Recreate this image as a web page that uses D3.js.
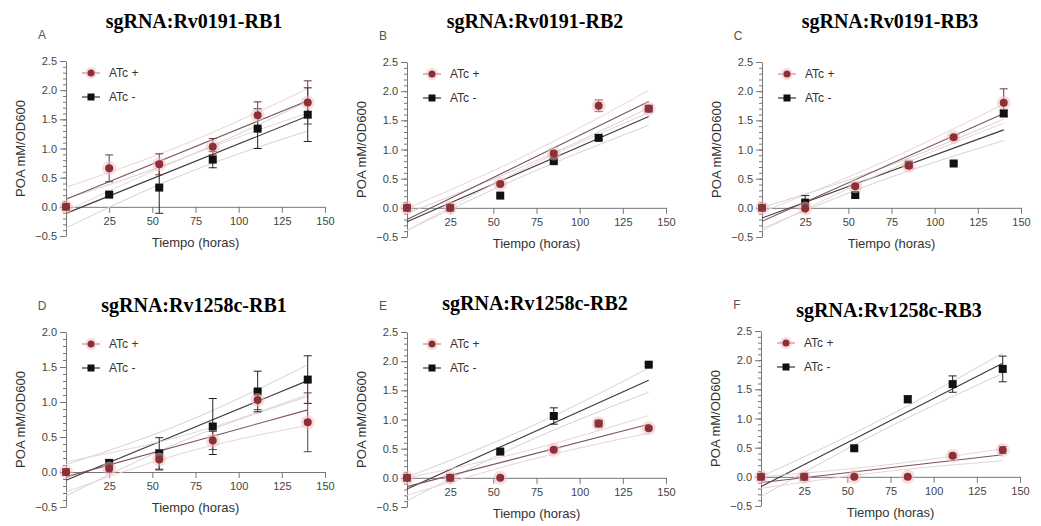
<!DOCTYPE html>
<html>
<head>
<meta charset="utf-8">
<script src="https://cdn.jsdelivr.net/npm/d3@7"></script>
<style>
  body { margin: 0; background: #fff; }
  svg text { font-family: "Liberation Sans", Arial, sans-serif; }
  .title { font-family: "Liberation Serif", "Times New Roman", serif; font-weight: bold; font-size: 20px; fill: #000; }
  .tick text { font-size: 11px; fill: #444; }
  .axis path, .axis line { stroke: #777; }
</style>
</head>
<body>
<svg id="chart" width="1041" height="526"></svg>
<script>
// sampling times (hours)
var hours = [0, 25, 54, 85, 111, 140];
var titles = ['sgRNA:Rv0191-RB1', 'sgRNA:Rv0191-RB2', 'sgRNA:Rv0191-RB3',
              'sgRNA:Rv1258c-RB1', 'sgRNA:Rv1258c-RB2', 'sgRNA:Rv1258c-RB3'];
var letters = ['A', 'B', 'C', 'D', 'E', 'F'];
var seriesNames = ['ATc +', 'ATc -'];
var yMax = [2.5, 2.5, 2.5, 2.0, 2.5, 2.5];
var xTicks = [25, 50, 75, 100, 125, 150];

// POA mM/OD600, mean per time point (3 replicates)
var atcPlus = [
  [0, 0.66, 0.73, 1.03, 1.57, 1.79],
  [0, 0.00, 0.41, 0.93, 1.75, 1.70],
  [0, -0.01, 0.37, 0.72, 1.21, 1.80],
  [0, 0.05, 0.18, 0.45, 1.03, 0.71],
  [0, 0.00, 0.00, 0.48, 0.93, 0.85],
  [0, 0.00, 0.00, 0.00, 0.36, 0.46]
];
var atcPlusErr = [
  [0, 0.23, 0.18, 0.14, 0.23, 0.37],
  [0, 0.00, 0.03, 0.04, 0.10, 0.04],
  [0, 0.02, 0.03, 0.03, 0.03, 0.24],
  [0, 0.05, 0.14, 0.13, 0.14, 0.42],
  [0, 0.00, 0.00, 0.02, 0.03, 0.03],
  [0, 0.00, 0.00, 0.00, 0.03, 0.06]
];
var atcMinus = [
  [0, 0.21, 0.33, 0.81, 1.34, 1.58],
  [0, 0.00, 0.21, 0.80, 1.20, 1.70],
  [0, 0.09, 0.22, 0.74, 0.76, 1.62],
  [0, 0.13, 0.26, 0.65, 1.15, 1.32],
  [0, 0.00, 0.45, 1.06, 0.93, 1.94],
  [0, 0.00, 0.49, 1.33, 1.59, 1.85]
];
var atcMinusErr = [
  [0, 0.03, 0.44, 0.14, 0.34, 0.46],
  [0, 0.00, 0.02, 0.03, 0.03, 0.03],
  [0, 0.12, 0.03, 0.03, 0.03, 0.05],
  [0, 0.04, 0.23, 0.40, 0.29, 0.34],
  [0, 0.00, 0.03, 0.14, 0.03, 0.03],
  [0, 0.00, 0.03, 0.06, 0.14, 0.22]
];
var reps = 3;

// panel layout: x of hour 0, top of plot, title baseline offset
var layout = [
  {x0: 66,  top: 61,  tdy: -33}, {x0: 407, top: 62,  tdy: -34}, {x0: 762, top: 62,  tdy: -34},
  {x0: 66,  top: 332, tdy: -20}, {x0: 407, top: 332, tdy: -22}, {x0: 761, top: 331, tdy: -14}
];
var plotW = 259, plotH = 175;

var svg = d3.select('#chart');

// least squares line on all replicates (means + SD), 95% confidence band
function fit(xs, ys, sds) {
  var n = xs.length, mx = d3.mean(xs), my = d3.mean(ys);
  var sxx = d3.sum(xs, function(x) { return (x - mx) * (x - mx); });
  var sxy = d3.sum(xs, function(x, i) { return (x - mx) * (ys[i] - my); });
  var b = sxy / sxx, a = my - b * mx;
  var sse = d3.sum(xs, function(x, i) { var r = ys[i] - (a + b * x); return r * r; });
  var N = n * reps;
  var ssTot = reps * sse + (reps - 1) * d3.sum(sds, function(d) { return d * d; });
  var s = Math.sqrt(ssTot / (N - 2));
  return {
    y: function(x) { return a + b * x; },
    half: function(x) { return 2.12 * s * Math.sqrt(1 / N + (x - mx) * (x - mx) / (reps * sxx)); }
  };
}

function drawPanel(p) {
  var L = layout[p];
  var g = svg.append('g').attr('transform', 'translate(' + L.x0 + ',' + L.top + ')');
  var x = d3.scaleLinear().domain([0, 150]).range([0, plotW]);
  var y = d3.scaleLinear().domain([-0.5, yMax[p]]).range([plotH, 0]);

  // title and panel letter
  svg.append('text').attr('class', 'title')
    .attr('x', L.x0 + 128).attr('y', L.top + L.tdy)
    .attr('text-anchor', 'middle').text(titles[p]);
  svg.append('text')
    .attr('x', L.x0 - 24).attr('y', L.top - 22)
    .attr('text-anchor', 'middle').style('font-size', '12px').style('fill', '#555')
    .text(letters[p]);

  // y axis with minor ticks
  var yMinor = d3.range(-0.5, yMax[p] + 0.001, 0.1);
  g.append('g').attr('class', 'axis')
    .call(d3.axisLeft(y).tickValues(yMinor).tickSize(3).tickFormat(''))
    .select('.domain').remove();
  g.append('g').attr('class', 'axis')
    .call(d3.axisLeft(y).tickValues(d3.range(-0.5, yMax[p] + 0.001, 0.5))
      .tickSize(6).tickSizeOuter(0).tickFormat(d3.format('.1f')));

  // x axis along y = 0
  g.append('g').attr('class', 'axis')
    .attr('transform', 'translate(0,' + y(0) + ')')
    .call(d3.axisBottom(x).tickValues(xTicks).tickSize(6).tickSizeOuter(0).tickPadding(4));

  // axis titles
  g.append('text')
    .attr('transform', 'translate(-46,' + (plotH / 2) + ')rotate(-90)')
    .attr('text-anchor', 'middle').attr('dy', '0.35em')
    .style('font-size', '13px').style('fill', '#333')
    .text('POA mM/OD600');
  g.append('text')
    .attr('x', x(75)).attr('y', y(0) + 40)
    .attr('text-anchor', 'middle')
    .style('font-size', '13px').style('fill', '#333')
    .text('Tiempo (horas)');

  var series = [
    {v: atcMinus[p], e: atcMinusErr[p], line: '#3a3a3a', band: '#d2d2d2', err: '#222'},
    {v: atcPlus[p], e: atcPlusErr[p], line: '#7d5256', band: '#ebd3d5', err: '#6e3a3f'}
  ];
  var xs = d3.range(0, 141, 2);

  // confidence bands and fitted lines
  series.forEach(function(s) {
    var f = fit(hours, s.v, s.e);
    [-1, 1].forEach(function(sign) {
      g.append('path')
        .attr('d', d3.line().x(function(d) { return x(d); })
          .y(function(d) { return y(f.y(d) + sign * f.half(d)); })(xs))
        .attr('fill', 'none').attr('stroke', s.band).attr('stroke-width', 1);
    });
    g.append('line')
      .attr('x1', x(0)).attr('y1', y(f.y(0)))
      .attr('x2', x(140)).attr('y2', y(f.y(140)))
      .attr('stroke', s.line).attr('stroke-width', 1.1);
  });

  // error bars
  series.forEach(function(s) {
    hours.forEach(function(h, i) {
      if (s.e[i] <= 0.02) return;
      var top = y(s.v[i] + s.e[i]), bot = y(s.v[i] - s.e[i]);
      g.append('line').attr('x1', x(h)).attr('x2', x(h)).attr('y1', top).attr('y2', bot)
        .attr('stroke', s.err).attr('stroke-width', 1);
      [top, bot].forEach(function(yy) {
        g.append('line').attr('x1', x(h) - 4).attr('x2', x(h) + 4).attr('y1', yy).attr('y2', yy)
          .attr('stroke', s.err).attr('stroke-width', 1);
      });
    });
  });

  // markers: ATc- squares, then ATc+ circles
  g.selectAll('rect.minus').data(atcMinus[p]).enter().append('rect')
    .attr('x', function(d, i) { return x(hours[i]) - 4; })
    .attr('y', function(d) { return y(d) - 4; })
    .attr('width', 8).attr('height', 8).attr('fill', '#111');
  g.selectAll('circle.halo').data(atcPlus[p]).enter().append('circle')
    .attr('cx', function(d, i) { return x(hours[i]); })
    .attr('cy', function(d) { return y(d); })
    .attr('r', 7).attr('fill', '#f0bcc0').attr('opacity', 0.5);
  g.selectAll('circle.plus').data(atcPlus[p]).enter().append('circle')
    .attr('cx', function(d, i) { return x(hours[i]); })
    .attr('cy', function(d) { return y(d); })
    .attr('r', 4).attr('fill', '#8c2f36');

  // legend
  var leg = g.append('g').attr('transform', 'translate(25,12)');
  seriesNames.forEach(function(name, i) {
    var ly = i * 24;
    leg.append('line').attr('x1', -9).attr('x2', 9).attr('y1', ly).attr('y2', ly)
      .attr('stroke', i === 0 ? '#c9888e' : '#333').attr('stroke-width', 1.2);
    if (i === 0) {
      leg.append('circle').attr('cx', 0).attr('cy', ly).attr('r', 6).attr('fill', '#f0bcc0').attr('opacity', 0.5);
      leg.append('circle').attr('cx', 0).attr('cy', ly).attr('r', 3.5).attr('fill', '#8c2f36');
    } else {
      leg.append('rect').attr('x', -3.5).attr('y', ly - 3.5).attr('width', 7).attr('height', 7).attr('fill', '#111');
    }
    leg.append('text').attr('x', 18).attr('y', ly).attr('dy', '0.35em')
      .style('font-size', '12px').style('fill', '#333').text(name);
  });
}

d3.range(6).forEach(drawPanel);
</script>
</body>
</html>
